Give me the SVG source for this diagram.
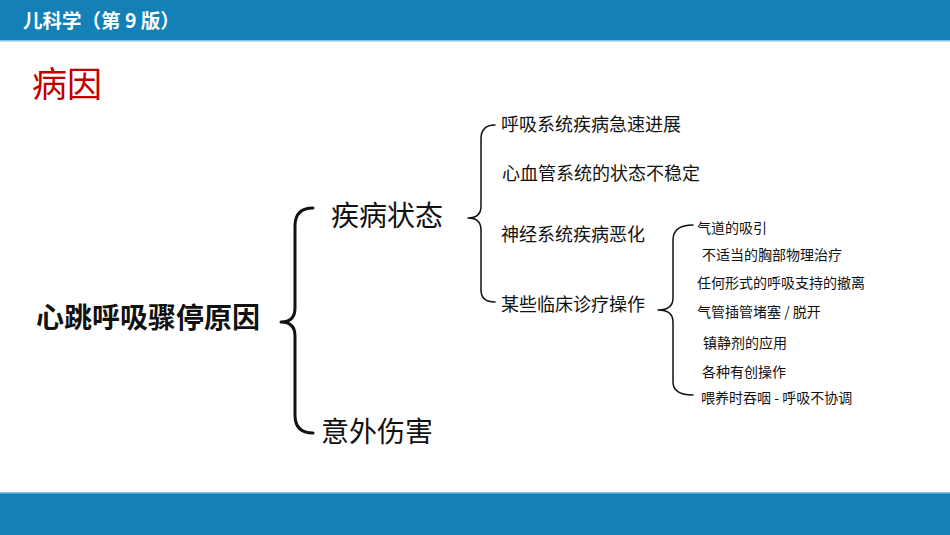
<svg xmlns="http://www.w3.org/2000/svg" width="950" height="535" viewBox="0 0 950 535">
<style>
.cjk{font-family:"Noto Sans CJK SC","Noto Sans",sans-serif;fill:#111}
.l2{font-size:18px}
.l3{font-size:14px}
.br{fill:none;stroke:#111;stroke-linecap:round;stroke-linejoin:round}
</style>
<rect x="0" y="0" width="950" height="535" fill="#fff"/>
<g id="header">
<rect x="0" y="0" width="950" height="41" fill="#1380B8"/>
<rect x="0" y="40" width="950" height="1.5" fill="#7EC5E8"/>
<text x="23" y="28" class="cjk" style="fill:#fff;font-weight:bold;font-size:19.5px">儿科学（第 9 版）</text>
</g>
<g id="footer">
<rect x="0" y="492" width="950" height="43" fill="#1380B8"/>
<rect x="0" y="492" width="950" height="1.5" fill="#7EC5E8"/>
</g>
<text id="title" x="32" y="97" class="cjk" style="fill:#C00000;font-size:35px">病因</text>
<g id="connectors">
<path class="br" stroke-width="3" d="M313,208 Q295,208 295,226 L295,308 Q295,322 281,322 Q295,322 295,336 L295,415 Q295,433 313,433"/>
<path class="br" stroke-width="1.5" d="M495,125 Q481,125 481,139 L481,206 Q481,218 468,218 Q481,218 481,230 L481,290 Q481,302 495,302"/>
<path class="br" stroke-width="1.5" d="M693,225 Q673,225 673,240 L673,298 Q673,310 658,310 Q673,310 673,322 L673,382 Q673,395 693,395"/>
</g>
<g id="root"><text x="36" y="328" class="cjk" style="font-weight:bold;font-size:28px">心跳呼吸骤停原因</text></g>
<g id="disease"><text x="331" y="226" class="cjk" style="font-size:28px">疾病状态</text></g>
<g id="accident"><text x="321" y="442" class="cjk" style="font-size:28px">意外伤害</text></g>
<g id="d1"><text x="501" y="131" class="cjk l2">呼吸系统疾病急速进展</text></g>
<g id="d2"><text x="502" y="180" class="cjk l2">心血管系统的状态不稳定</text></g>
<g id="d3"><text x="501" y="241" class="cjk l2">神经系统疾病恶化</text></g>
<g id="d4"><text x="501" y="311" class="cjk l2">某些临床诊疗操作</text></g>
<g id="p1"><text x="697" y="233" class="cjk l3">气道的吸引</text></g>
<g id="p2"><text x="702" y="260" class="cjk l3">不适当的胸部物理治疗</text></g>
<g id="p3"><text x="697" y="288" class="cjk l3">任何形式的呼吸支持的撤离</text></g>
<g id="p4"><text x="697" y="317" class="cjk l3">气管插管堵塞 / 脱开</text></g>
<g id="p5"><text x="703" y="348" class="cjk l3">镇静剂的应用</text></g>
<g id="p6"><text x="702" y="377" class="cjk l3">各种有创操作</text></g>
<g id="p7"><text x="701" y="403" class="cjk l3">喂养时吞咽 - 呼吸不协调</text></g>
</svg>
